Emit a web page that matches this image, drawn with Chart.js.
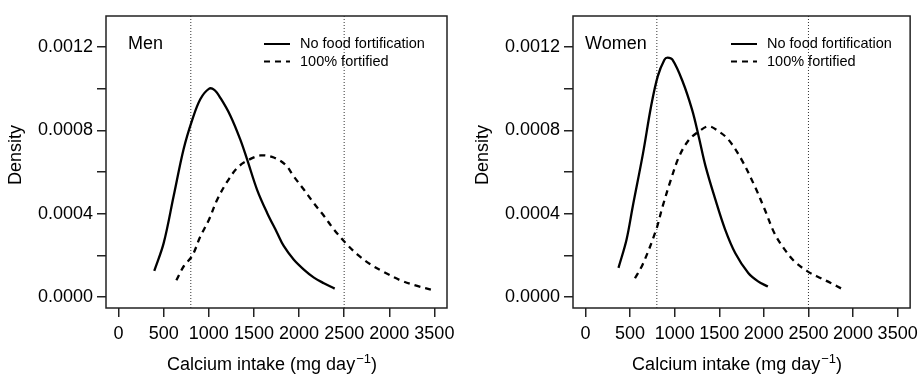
<!DOCTYPE html>
<html>
<head>
<meta charset="utf-8">
<script src="https://cdn.jsdelivr.net/npm/chart.js@4.4.1/dist/chart.umd.min.js"></script>
<style>
  html, body { margin: 0; padding: 0; background: #fff; }
  #wrap { position: relative; width: 924px; height: 374px; }
  canvas { position: absolute; top: 0; }
</style>
</head>
<body>
<div id="wrap">
  <canvas id="men" width="462" height="374" style="left:0"></canvas>
  <canvas id="women" width="462" height="374" style="left:462px"></canvas>
</div>
<script>
// --- data ---
const xTicks = [0, 500, 1000, 1500, 2000, 2500, 3000, 3500];
const xTickLabels = ['0', '500', '1000', '1500', '2000', '2500', '2000', '3500']; // sic
const yTicks = [0, 0.0002, 0.0004, 0.0006, 0.0008, 0.001, 0.0012];
const yTickLabels = ['0.0000', '', '0.0004', '', '0.0008', '', '0.0012'];
const refLines = [800, 2500];
const legendLabels = ['No food fortification', '100% fortified'];
const panelNames = ['Men', 'Women'];

const menBaseX = [395, 500, 610, 720, 815, 905, 1000, 1060, 1130, 1240, 1350, 1425, 1535, 1645, 1755, 1830, 1940, 2050, 2165, 2275, 2395];
const menBaseY = [0.000125, 0.00026, 0.000485, 0.00071, 0.00085, 0.00095, 0.001, 0.000995, 0.000955, 0.00087, 0.000755, 0.00066, 0.000515, 0.000405, 0.00031, 0.000245, 0.00018, 0.000133, 0.000093, 0.000066, 0.00004];
const menFortX = [640, 725, 815, 905, 1000, 1095, 1205, 1315, 1425, 1575, 1720, 1850, 1940, 2055, 2165, 2275, 2385, 2515, 2645, 2790, 2940, 3125, 3310, 3490];
const menFortY = [0.00008, 0.00015, 0.000197, 0.00029, 0.00037, 0.00047, 0.000555, 0.00062, 0.000655, 0.00068, 0.00067, 0.000635, 0.00058, 0.000515, 0.00045, 0.00039, 0.000325, 0.00026, 0.000205, 0.000157, 0.00012, 0.00008, 0.000053, 0.000032];

const womenBaseX = [370, 460, 530, 645, 735, 810, 885, 920, 975, 1085, 1195, 1270, 1345, 1455, 1565, 1680, 1825, 1935, 2045];
const womenBaseY = [0.00014, 0.000275, 0.000435, 0.00069, 0.000915, 0.00106, 0.00114, 0.00115, 0.00114, 0.00104, 0.0009, 0.00077, 0.00063, 0.00047, 0.000325, 0.00021, 0.000115, 0.000075, 0.00005];
const womenFortX = [555, 645, 790, 865, 955, 1050, 1160, 1270, 1380, 1495, 1605, 1750, 1900, 2010, 2120, 2230, 2345, 2490, 2640, 2750, 2880];
const womenFortY = [0.00009, 0.00016, 0.00032, 0.000435, 0.00056, 0.000675, 0.000755, 0.000795, 0.00082, 0.000795, 0.000755, 0.00066, 0.00053, 0.00042, 0.000305, 0.00023, 0.00017, 0.000123, 0.00009, 0.000067, 0.000038];

const X_MIN = -140, X_MAX = 3640;
const Y_MIN = -0.000053, Y_MAX = 0.00135;
const FONT = '"Liberation Sans", Arial, Helvetica, sans-serif';

function toPoints(xs, ys) {
    return xs.map((x, i) => ({ x: x, y: ys[i] }));
}

// box, panel name, legend and axis titles, drawn R-style
const framePlugin = {
    id: 'frame',
    afterDraw(chart, args, opts) {
        const ctx = chart.ctx;
        const a = chart.chartArea;
        ctx.save();
        ctx.strokeStyle = '#222';
        ctx.lineWidth = 1.5;
        ctx.strokeRect(a.left, a.top, a.right - a.left, a.bottom - a.top);

        ctx.fillStyle = '#000';
        ctx.font = '18px ' + FONT;
        ctx.textBaseline = 'middle';
        ctx.textAlign = 'left';
        ctx.fillText(opts.name, a.left + opts.nameX, a.top + 28);

        // legend
        const lx = a.left + 158;
        ctx.font = '14.5px ' + FONT;
        legendLabels.forEach((txt, i) => {
            const y = a.top + 28 + i * 17.5;
            const ds = chart.data.datasets[i];
            ctx.beginPath();
            ctx.setLineDash(ds.borderDash || []);
            ctx.lineWidth = 2;
            ctx.strokeStyle = '#000';
            ctx.moveTo(lx, y);
            ctx.lineTo(lx + 26, y);
            ctx.stroke();
            ctx.setLineDash([]);
            ctx.fillText(txt, lx + 36, y);
        });

        // x title with superscript
        ctx.textBaseline = 'alphabetic';
        const main = 'Calcium intake (mg day';
        const sup = '\u22121';
        ctx.font = '18px ' + FONT;
        const w1 = ctx.measureText(main).width;
        const w3 = ctx.measureText(')').width;
        ctx.font = '13px ' + FONT;
        const w2 = ctx.measureText(sup).width;
        let tx = (a.left + a.right) / 2 - 5 - (w1 + w2 + w3) / 2;
        const ty = 370;
        ctx.font = '18px ' + FONT;
        ctx.fillText(main, tx, ty);
        ctx.font = '13px ' + FONT;
        ctx.fillText(sup, tx + w1 + 1, ty - 7);
        ctx.font = '18px ' + FONT;
        ctx.fillText(')', tx + w1 + w2 + 1, ty);

        // y title
        ctx.translate(a.left - 85, 155);
        ctx.rotate(-Math.PI / 2);
        ctx.textAlign = 'center';
        ctx.fillText('Density', 0, 0);
        ctx.restore();
    }
};

function makePanel(canvasId, name, nameX, axisW, padRight, baseX, baseY, fortX, fortY) {
    const datasets = [
        { data: toPoints(baseX, baseY), borderColor: '#000', borderWidth: 2.3 },
        { data: toPoints(fortX, fortY), borderColor: '#000', borderWidth: 2.3, borderDash: [6, 5] }
    ];
    refLines.forEach(v => {
        datasets.push({
            data: [{ x: v, y: Y_MIN }, { x: v, y: Y_MAX }],
            borderColor: '#333', borderWidth: 1, borderDash: [1, 2], tension: 0
        });
    });

    return new Chart(document.getElementById(canvasId).getContext('2d'), {
        type: 'line',
        data: { datasets: datasets },
        options: {
            responsive: false,
            animation: false,
            layout: { padding: { top: 16, right: padRight, left: 0, bottom: 0 } },
            elements: {
                point: { radius: 0 },
                line: { tension: 0.35, fill: false }
            },
            scales: {
                x: {
                    type: 'linear', min: X_MIN, max: X_MAX,
                    afterBuildTicks: s => { s.ticks = xTicks.map(v => ({ value: v })); },
                    afterFit: s => { s.height = 66; },
                    border: { display: false },
                    grid: { drawOnChartArea: false, drawTicks: true, tickLength: 9, color: '#222', lineWidth: 1.5 },
                    ticks: {
                        autoSkip: false, maxRotation: 0, padding: 6, color: '#000',
                        font: { family: FONT, size: 18 },
                        callback: (v, i) => xTickLabels[i]
                    }
                },
                y: {
                    type: 'linear', min: Y_MIN, max: Y_MAX,
                    afterBuildTicks: s => { s.ticks = yTicks.map(v => ({ value: v })); },
                    afterFit: s => { s.width = axisW; },
                    border: { display: false },
                    grid: { drawOnChartArea: false, drawTicks: true, tickLength: 9, color: '#222', lineWidth: 1.5 },
                    ticks: {
                        autoSkip: false, padding: 4, color: '#000',
                        font: { family: FONT, size: 18 },
                        callback: (v, i) => yTickLabels[i]
                    }
                }
            },
            plugins: {
                legend: { display: false },
                tooltip: { enabled: false },
                frame: { name: name, nameX: nameX }
            }
        },
        plugins: [framePlugin]
    });
}

makePanel('men', panelNames[0], 22, 106, 15, menBaseX, menBaseY, menFortX, menFortY);
makePanel('women', panelNames[1], 12, 111, 9, womenBaseX, womenBaseY, womenFortX, womenFortY);
</script>
</body>
</html>
